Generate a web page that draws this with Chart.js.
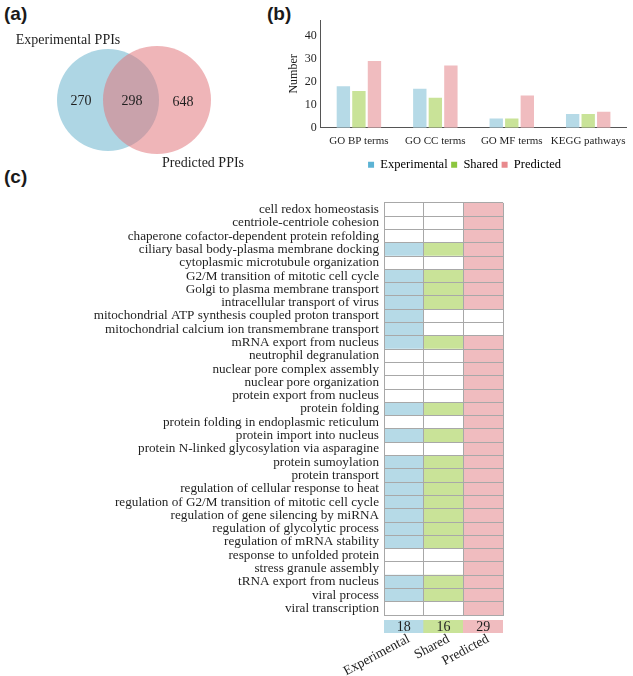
<!DOCTYPE html>
<html>
<head>
<meta charset="utf-8">
<script src="https://cdn.jsdelivr.net/npm/chart.js@4.4.1/dist/chart.umd.min.js"></script>
<style>
  body { margin: 0; width: 633px; height: 676px; background: #fff; position: relative; overflow: hidden; }
  canvas { position: absolute; }
  .panel { position: absolute; font: bold 19px 'Liberation Sans', Arial, sans-serif; color: #1a1a1a; }
</style>
</head>
<body>
<div class="panel" style="left:4px;top:3px">(a)</div>
<div class="panel" style="left:267px;top:3px">(b)</div>
<div class="panel" style="left:4px;top:166px">(c)</div>
<canvas id="venn" width="250" height="180" style="left:0;top:0"></canvas>
<canvas id="bars" width="363" height="183" style="left:270px;top:0"></canvas>
<canvas id="heat" width="520" height="438" style="left:0;top:190px"></canvas>
<canvas id="totals" width="220" height="64" style="left:300px;top:612px"></canvas>
<script>
// --- DATA ---
// (a) Venn
const vennSets = ['Experimental PPIs', 'Predicted PPIs'];
const vennCounts = [270, 298, 648];   // experimental only, both, predicted only

// (b) enrichment term counts
const termTypes = ['GO BP terms', 'GO CC terms', 'GO MF terms', 'KEGG pathways'];
const experimental = [18, 17, 4, 6];
const shared = [16, 13, 4, 6];
const predicted = [29, 27, 14, 7];
const yTicks = [0, 10, 20, 30, 40];

// (c) GO BP terms per group
const groups = ['Experimental', 'Shared', 'Predicted'];
const terms = [
    'cell redox homeostasis',
    'centriole-centriole cohesion',
    'chaperone cofactor-dependent protein refolding',
    'ciliary basal body-plasma membrane docking',
    'cytoplasmic microtubule organization',
    'G2/M transition of mitotic cell cycle',
    'Golgi to plasma membrane transport',
    'intracellular transport of virus',
    'mitochondrial ATP synthesis coupled proton transport',
    'mitochondrial calcium ion transmembrane transport',
    'mRNA export from nucleus',
    'neutrophil degranulation',
    'nuclear pore complex assembly',
    'nuclear pore organization',
    'protein export from nucleus',
    'protein folding',
    'protein folding in endoplasmic reticulum',
    'protein import into nucleus',
    'protein N-linked glycosylation via asparagine',
    'protein sumoylation',
    'protein transport',
    'regulation of cellular response to heat',
    'regulation of G2/M transition of mitotic cell cycle',
    'regulation of gene silencing by miRNA',
    'regulation of glycolytic process',
    'regulation of mRNA stability',
    'response to unfolded protein',
    'stress granule assembly',
    'tRNA export from nucleus',
    'viral process',
    'viral transcription'
];
const inExperimental = [0,0,0,1,0,1,1,1,1,1,1,0,0,0,0,1,0,1,0,1,1,1,1,1,1,1,0,0,1,1,0];
const inShared       = [0,0,0,1,0,1,1,1,0,0,1,0,0,0,0,1,0,1,0,1,1,1,1,1,1,1,0,0,1,1,0];
const inPredicted    = [1,1,1,1,1,1,1,1,0,0,1,1,1,1,1,1,1,1,1,1,1,1,1,1,1,1,1,1,1,1,1];
const totals = [18, 16, 29];

// --- STYLE ---
const SERIF = "'Liberation Serif', 'Times New Roman', serif";
const TEXT = '#1f1f1f';
const barColors = ['#b6dae7', '#c9e398', '#f0bcbf'];
const legendColors = ['#5cb3d4', '#8cc63f', '#e8898d'];
const gridGray = '#a8a8a8';

Chart.defaults.font.family = SERIF;
Chart.defaults.color = TEXT;
Chart.defaults.animation = false;
Chart.defaults.events = [];
Chart.defaults.plugins.tooltip.enabled = false;

// --- (a) VENN ---
// chart units are set up 1:1 with the canvas, so bubble r (px) matches
const vennGeo = {
    circles: [{ x: 108, y: 100, r: 51 }, { x: 157, y: 100, r: 54 }],
    setLabels: [{ x: 68, y: 40 }, { x: 203, y: 163 }],
    countLabels: [{ x: 81, y: 101 }, { x: 132, y: 101 }, { x: 183, y: 102 }]
};

const vennText = {
    id: 'vennText',
    afterDatasetsDraw(chart) {
        const { ctx, scales: { x, y } } = chart;
        ctx.save();
        ctx.fillStyle = TEXT;
        ctx.font = '14px ' + SERIF;
        ctx.textAlign = 'center';
        ctx.textBaseline = 'middle';
        vennSets.forEach((t, i) => {
            const p = vennGeo.setLabels[i];
            ctx.fillText(t, x.getPixelForValue(p.x), y.getPixelForValue(p.y));
        });
        vennCounts.forEach((v, i) => {
            const p = vennGeo.countLabels[i];
            ctx.fillText(String(v), x.getPixelForValue(p.x), y.getPixelForValue(p.y));
        });
        ctx.restore();
    }
};

new Chart(document.getElementById('venn'), {
    type: 'bubble',
    data: {
        datasets: [
            // higher order is drawn first, so the translucent pink lies over the blue
            { data: [vennGeo.circles[0]], backgroundColor: '#aed6e4', borderWidth: 0, order: 2 },
            { data: [vennGeo.circles[1]], backgroundColor: 'rgba(225,115,121,0.53)', borderWidth: 0, order: 1 }
        ]
    },
    options: {
        responsive: false,
        layout: { padding: 0, autoPadding: false },
        plugins: { legend: { display: false } },
        scales: {
            x: { display: false, min: 0, max: 250 },
            y: { display: false, min: 0, max: 180, reverse: true }
        }
    },
    plugins: [vennText]
});

// --- (b) BAR CHART ---
// nudge the legend a little left of the plot-area centre, like the original
const legendShift = {
    id: 'legendShift',
    afterLayout(chart) {
        chart.legend.left -= 9;
        chart.legend.right -= 9;
    }
};

new Chart(document.getElementById('bars'), {
    type: 'bar',
    data: {
        labels: termTypes,
        datasets: [
            { label: 'Experimental', data: experimental, backgroundColor: barColors[0] },
            { label: 'Shared', data: shared, backgroundColor: barColors[1] },
            { label: 'Predicted', data: predicted, backgroundColor: barColors[2] }
        ]
    },
    options: {
        responsive: false,
        datasets: { bar: { categoryPercentage: 0.61, barPercentage: 0.86 } },
        layout: { padding: { left: 17, right: 3, top: 20, bottom: 2 } },
        plugins: {
            legend: {
                position: 'bottom',
                fullSize: false,
                labels: {
                    boxWidth: 6, boxHeight: 6, padding: 3.5,
                    font: { size: 12.5 },
                    generateLabels: chart => chart.data.datasets.map((d, i) => ({
                        text: d.label, fillStyle: legendColors[i], strokeStyle: legendColors[i],
                        lineWidth: 0, datasetIndex: i
                    }))
                }
            }
        },
        scales: {
            x: {
                grid: { display: false, drawTicks: false },
                border: { display: true, color: '#555' },
                ticks: { font: { size: 11 }, padding: 7, color: TEXT, maxRotation: 0, autoSkip: false }
            },
            y: {
                min: 0, max: 46.8,
                grid: { display: false, drawTicks: false },
                border: { display: true, color: '#555' },
                afterBuildTicks: s => { s.ticks = yTicks.map(v => ({ value: v })); },
                afterFit: s => { s.width = 33.7; },
                ticks: { font: { size: 12 }, padding: 4, color: TEXT },
                title: { display: true, text: 'Number', font: { size: 12 }, padding: 0, color: TEXT }
            }
        }
    },
    plugins: [legendShift]
});

// --- (c) MEMBERSHIP GRID ---
const membership = [inExperimental, inShared, inPredicted];
new Chart(document.getElementById('heat'), {
    type: 'bar',
    data: {
        labels: terms,
        datasets: groups.map((g, gi) => ({
            label: g,
            data: membership[gi].map(() => 1),
            backgroundColor: membership[gi].map(m => m ? barColors[gi] : '#ffffff'),
            borderWidth: 0
        }))
    },
    options: {
        responsive: false,
        indexAxis: 'y',
        datasets: { bar: { categoryPercentage: 1, barPercentage: 1 } },
        layout: { padding: { left: 0, right: 17, top: 0, bottom: 0 } },
        plugins: { legend: { display: false } },
        scales: {
            x: {
                stacked: true, min: 0, max: 3,
                afterBuildTicks: s => { s.ticks = [0, 1, 2, 3].map(v => ({ value: v })); },
                afterFit: s => { s.height = 0; },
                grid: { color: gridGray, drawTicks: false, z: 1 },
                border: { color: gridGray, z: 1 },
                ticks: { display: false }
            },
            y: {
                stacked: true,
                afterFit: s => { s.width = 384; },
                grid: { offset: true, color: gridGray, drawTicks: false, z: 1 },
                border: { color: gridGray, z: 1 },
                ticks: { autoSkip: false, font: { size: 13.2 }, padding: 5, color: TEXT }
            }
        }
    }
});

// --- (c) TOTALS ROW ---
const totalsText = {
    id: 'totalsText',
    afterDatasetsDraw(chart) {
        const { ctx } = chart;
        const meta = chart.getDatasetMeta(0);
        const yMid = (chart.chartArea.top + chart.chartArea.bottom) / 2;
        ctx.save();
        ctx.fillStyle = TEXT;
        ctx.font = '14px ' + SERIF;
        ctx.textAlign = 'center';
        ctx.textBaseline = 'middle';
        meta.data.forEach((bar, i) => {
            ctx.fillText(String(totals[i]), bar.x, yMid + 1);
        });
        ctx.restore();
    }
};

new Chart(document.getElementById('totals'), {
    type: 'bar',
    data: {
        labels: groups,
        datasets: [{ data: totals.map(() => 1), backgroundColor: barColors, borderWidth: 0 }]
    },
    options: {
        responsive: false,
        datasets: { bar: { categoryPercentage: 1, barPercentage: 1 } },
        layout: { padding: { left: 84, right: 17, top: 8, bottom: 0 } },
        plugins: { legend: { display: false } },
        scales: {
            x: {
                afterFit: s => { s.height = 43; },
                grid: { display: false, drawTicks: false },
                border: { display: false },
                ticks: {
                    minRotation: 28, maxRotation: 28, autoSkip: false, labelOffset: 5,
                    font: { size: 13.5 }, padding: -2, color: TEXT
                }
            },
            y: { display: false, min: 0, max: 1 }
        }
    },
    plugins: [totalsText]
});
</script>
</body>
</html>
